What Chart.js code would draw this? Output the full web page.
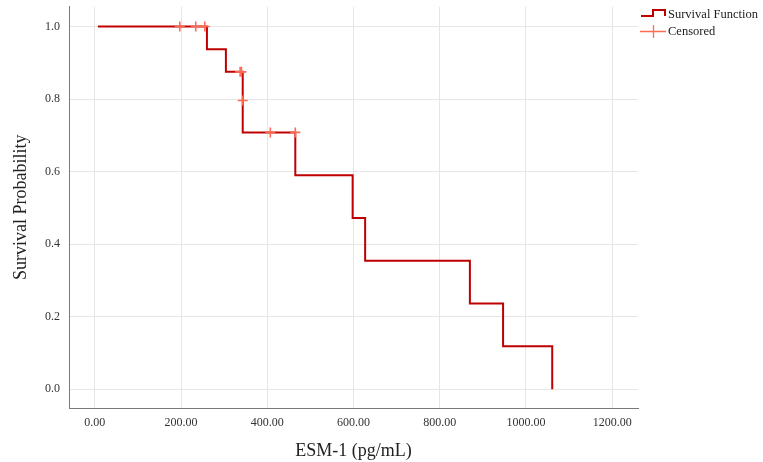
<!DOCTYPE html>
<html>
<head>
<meta charset="utf-8">
<script src="https://cdn.jsdelivr.net/npm/chart.js@4.4.0/dist/chart.umd.min.js"></script>
<style>
  html, body { margin: 0; padding: 0; background: #fff; }
  #wrap { width: 763px; height: 462px; }
</style>
</head>
<body>
<div id="wrap"><canvas id="km"></canvas></div>
<script>
// curva de sobrevivência (tempos dos eventos e probabilidade após cada um)
const stepTimes = [7, 260, 304, 343, 343, 465, 598, 627, 870, 947, 1061];
const stepSurv = [1.0, 0.9375, 0.875, 0.796, 0.708, 0.590, 0.472, 0.354, 0.236, 0.118, 0.0];
// casos censurados
const censorTimes = [197, 234, 255, 337, 340, 343, 407, 465];
const censorSurv = [1.0, 1.0, 1.0, 0.875, 0.875, 0.796, 0.708, 0.708];
const xTicks = [0, 200, 400, 600, 800, 1000, 1200];
const yTicks = [0, 0.2, 0.4, 0.6, 0.8, 1.0];
const legendLabels = ['Survival Function', 'Censored'];

const lineColor = '#bf0000';
const censorColor = '#ff6a55';
const serif = "'Liberation Serif', 'Times New Roman', serif";

const legendPlugin = {
  id: 'kmLegend',
  afterDraw(chart) {
    const ctx = chart.ctx;
    ctx.save();
    // ícone da função de sobrevivência (degrau)
    ctx.strokeStyle = lineColor;
    ctx.lineWidth = 2;
    ctx.beginPath();
    ctx.moveTo(641, 16);
    ctx.lineTo(653, 16);
    ctx.lineTo(653, 10);
    ctx.lineTo(665, 10);
    ctx.lineTo(665, 16);
    ctx.stroke();
    // ícone dos censurados
    ctx.strokeStyle = censorColor;
    ctx.lineWidth = 1.3;
    ctx.beginPath();
    ctx.moveTo(640, 31.5);
    ctx.lineTo(666, 31.5);
    ctx.moveTo(653.5, 25);
    ctx.lineTo(653.5, 38);
    ctx.stroke();
    ctx.fillStyle = '#222';
    ctx.font = '12.5px ' + serif;
    ctx.textBaseline = 'middle';
    ctx.fillText(legendLabels[0], 668, 15);
    ctx.fillText(legendLabels[1], 668, 32);
    ctx.restore();
  }
};

const noPad = s => {
  s.paddingTop = 0;
  s.paddingBottom = 0;
  s.paddingLeft = 0;
  s.paddingRight = 0;
};

new Chart(document.getElementById('km'), {
  type: 'line',
  data: {
    datasets: [
      {
        label: legendLabels[0],
        data: stepTimes.map((t, i) => ({ x: t, y: stepSurv[i] })),
        stepped: 'before',
        order: 1,
        borderColor: lineColor,
        borderWidth: 2,
        pointRadius: 0,
        fill: false
      },
      {
        label: legendLabels[1],
        data: censorTimes.map((t, i) => ({ x: t, y: censorSurv[i] })),
        showLine: false,
        order: 0,
        pointStyle: 'cross',
        pointRadius: 5,
        pointBorderColor: censorColor,
        pointBorderWidth: 1.6,
        pointBackgroundColor: censorColor
      }
    ]
  },
  options: {
    responsive: true,
    maintainAspectRatio: false,
    animation: false,
    layout: { padding: { left: 0, right: 125, top: 5, bottom: 0 } },
    plugins: {
      legend: { display: false },
      tooltip: { enabled: false }
    },
    scales: {
      x: {
        type: 'linear',
        min: -60,
        max: 1260,
        afterBuildTicks: s => { s.ticks = xTicks.map(v => ({ value: v })); },
        afterFit: s => { s.height = 54; noPad(s); },
        grid: { color: '#e6e6e6', drawTicks: false },
        border: { color: '#7a7a7a', width: 1 },
        ticks: {
          padding: 8,
          color: '#333',
          font: { family: serif, size: 12 },
          callback: v => v.toFixed(2)
        },
        title: {
          display: true,
          text: 'ESM-1 (pg/mL)',
          color: '#222',
          font: { family: serif, size: 18 },
          padding: { top: 6, bottom: 0 }
        }
      },
      y: {
        min: -0.052,
        max: 1.055,
        afterBuildTicks: s => { s.ticks = yTicks.map(v => ({ value: v })); },
        afterFit: s => { s.width = 69; noPad(s); },
        grid: { color: '#e6e6e6', drawTicks: false },
        border: { color: '#7a7a7a', width: 1 },
        ticks: {
          padding: 9,
          color: '#333',
          font: { family: serif, size: 12 },
          callback: v => v.toFixed(1)
        },
        title: {
          display: true,
          text: 'Survival Probability',
          color: '#222',
          font: { family: serif, size: 18 },
          padding: { top: 10, bottom: 0 }
        }
      }
    }
  },
  plugins: [legendPlugin]
});
</script>
</body>
</html>
